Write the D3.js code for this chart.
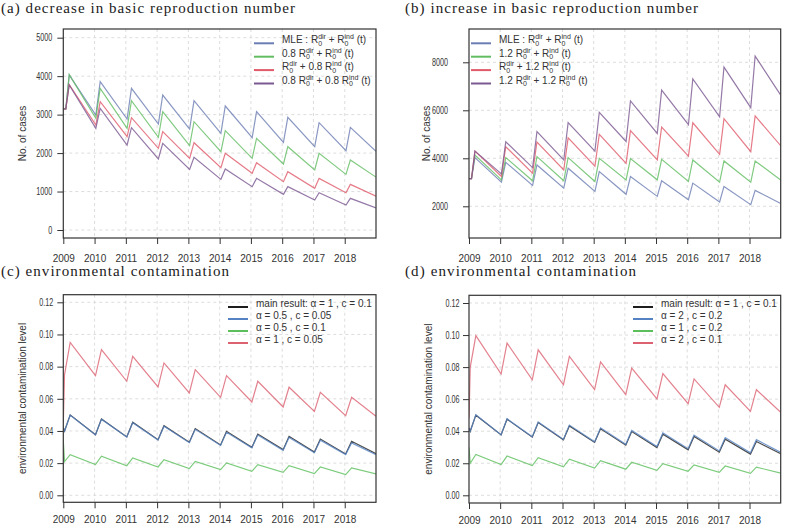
<!DOCTYPE html>
<html>
<head>
<meta charset="utf-8">
<script src="https://cdn.jsdelivr.net/npm/d3@7"></script>
<style>
body { margin: 0; background: #fff; }
text { font-family: "Liberation Sans", Arial, sans-serif; fill: #333; }
.title { font-family: "Liberation Serif", "DejaVu Serif", serif; fill: #1a1a1a; }
</style>
</head>
<body>
<div id="root"></div>
<script>
// year ticks, shared by all four panels
var years = [2009, 2010, 2011, 2012, 2013, 2014, 2015, 2016, 2017, 2018];

// time points of the vertices (seasonal low, then peak)
var timesAB = [2009, 2009.08, 2009.19, 2010.04, 2010.18, 2011.04, 2011.18, 2012.04, 2012.18,
    2013.04, 2013.18, 2014.04, 2014.18, 2015.04, 2015.18, 2016.04, 2016.18, 2017.04, 2017.18,
    2018.04, 2018.18, 2019];
var timesCD = [2009, 2009.04, 2009.22, 2010.03, 2010.22, 2011.03, 2011.22, 2012.03, 2012.22,
    2013.03, 2013.22, 2014.03, 2014.22, 2015.03, 2015.22, 2016.03, 2016.22, 2017.03, 2017.22,
    2018.03, 2018.22, 2019];

var ticksA = [0, 1000, 2000, 3000, 4000, 5000];
var ticksB = [2000, 4000, 6000, 8000];
var ticksCD = [0, 0.02, 0.04, 0.06, 0.08, 0.10, 0.12];

// (a) decrease
var mleA = [3150, 3150, 4030, 2990, 3856, 2886, 3683, 2756, 3510, 2626, 3362, 2513, 3224, 2400, 3076, 2279, 2929, 2166, 2790, 2062, 2669, 2045];
var dir08A = [3150, 3150, 4040, 2903, 3683, 2643, 3362, 2409, 3076, 2192, 2816, 2036, 2582, 1863, 2383, 1716, 2166, 1560, 1993, 1447, 1820, 1375];
var ind08A = [3150, 3150, 3780, 2730, 3336, 2426, 2920, 2123, 2556, 1863, 2270, 1620, 1993, 1473, 1750, 1256, 1516, 1083, 1343, 971, 1187, 880];
var both08A = [3150, 3150, 3770, 2643, 3163, 2210, 2660, 1846, 2253, 1577, 1889, 1317, 1586, 1127, 1343, 927, 1127, 780, 971, 650, 823, 575];

// (b) increase
var mleB = [3150, 3150, 4030, 3007, 3834, 2869, 3724, 2759, 3586, 2621, 3448, 2500, 3236, 2414, 3062, 2276, 2966, 2179, 2828, 2069, 2662, 2120];
var dir12B = [3150, 3150, 4140, 3103, 4028, 3062, 4069, 3062, 4028, 3034, 4000, 3097, 3990, 3103, 3959, 3034, 3931, 3007, 3890, 3007, 3890, 3100];
var ind12B = [3150, 3150, 4300, 3241, 4483, 3379, 4680, 3517, 4850, 3670, 5000, 3790, 5150, 3931, 5300, 4090, 5480, 4166, 5650, 4276, 5766, 4524];
var both12B = [3150, 3150, 4300, 3352, 4690, 3614, 5111, 3930, 5483, 4300, 5917, 4700, 6390, 5034, 6840, 5400, 7310, 5724, 7800, 6110, 8260, 6630];

// (c) and (d) environmental contamination
var mainEnv = [0.042, 0.040, 0.050, 0.0377, 0.0475, 0.0363, 0.0454, 0.0346, 0.0433, 0.033, 0.0415, 0.0313, 0.0398, 0.0298, 0.0381, 0.0284, 0.0367, 0.0269, 0.035, 0.0257, 0.0336, 0.0259];
var a05c005 = [0.042, 0.040, 0.0498, 0.0377, 0.0473, 0.0362, 0.0451, 0.0344, 0.0430, 0.0327, 0.0410, 0.0310, 0.0392, 0.0295, 0.0375, 0.0280, 0.0360, 0.0265, 0.0343, 0.0253, 0.0326, 0.0253];
var a05c01 = [0.034, 0.021, 0.0253, 0.0191, 0.0243, 0.0184, 0.0232, 0.0176, 0.0222, 0.0166, 0.0211, 0.016, 0.0201, 0.0149, 0.0191, 0.0143, 0.0184, 0.0135, 0.0176, 0.0129, 0.017, 0.0133];
var a1c005 = [0.045, 0.075, 0.0951, 0.0744, 0.0906, 0.0709, 0.0864, 0.0674, 0.0823, 0.0636, 0.0781, 0.0609, 0.0744, 0.058, 0.0709, 0.0549, 0.0672, 0.0522, 0.064, 0.0495, 0.0609, 0.0491];
var a2c02 = [0.042, 0.040, 0.0502, 0.0378, 0.0478, 0.0365, 0.0458, 0.0349, 0.0438, 0.0334, 0.0421, 0.0318, 0.0405, 0.0304, 0.0389, 0.0291, 0.0376, 0.0277, 0.036, 0.0265, 0.0347, 0.0268];
var a1c02 = [0.030, 0.020, 0.0255, 0.0192, 0.0245, 0.0186, 0.0235, 0.0178, 0.0225, 0.0170, 0.0216, 0.0163, 0.0206, 0.0156, 0.0198, 0.0150, 0.0190, 0.0143, 0.0183, 0.0137, 0.0176, 0.0138];
var a2c01 = [0.048, 0.080, 0.0996, 0.0757, 0.095, 0.0721, 0.0908, 0.069, 0.0867, 0.0659, 0.0832, 0.0628, 0.0794, 0.0601, 0.0759, 0.0572, 0.0726, 0.0549, 0.069, 0.0524, 0.0659, 0.0518];

var labelsA = ["MLE : R_0^{dir} + R_0^{ind} (t)", "0.8 R_0^{dir} + R_0^{ind} (t)", "R_0^{dir} + 0.8 R_0^{ind} (t)", "0.8 R_0^{dir} + 0.8 R_0^{ind} (t)"];
var labelsB = ["MLE : R_0^{dir} + R_0^{ind} (t)", "1.2 R_0^{dir} + R_0^{ind} (t)", "R_0^{dir} + 1.2 R_0^{ind} (t)", "1.2 R_0^{dir} + 1.2 R_0^{ind} (t)"];
var labelsC = ["main result: α = 1 , c = 0.1", "α = 0.5 , c = 0.05", "α = 0.5 , c = 0.1", "α = 1 , c = 0.05"];
var labelsD = ["main result: α = 1 , c = 0.1", "α = 2 , c = 0.2", "α = 1 , c = 0.2", "α = 2 , c = 0.1"];

var colorsAB = ["#6b7db3", "#62bd62", "#e05a6a", "#7a5891"];
var colorsCD = ["#1e1e1e", "#5582c2", "#5cbf5c", "#dc6272"];

var width = 786,
    height = 526;

var svg = d3.select("#root")
    .append("svg")
    .attr("width", width)
    .attr("height", height);

// plotmath-like R_0^{x}: subscript 0 with the superscript stacked over it
function richText(sel, str) {
    var parts = str.split(/R_0\^\{(\w+)\}/);
    var back = 0;
    parts.forEach(function (s, i) {
        if (i % 2 == 0) {
            if (s === "") return;
            sel.append("tspan").attr("dy", back).text(s);
            back = 0;
        } else {
            sel.append("tspan").attr("dy", back).text("R");
            sel.append("tspan").attr("font-size", 7).attr("dy", 2.5).text("0");
            sel.append("tspan").attr("font-size", 7).attr("dx", -3.9).attr("dy", -6.5).text(s);
            back = 4;
        }
    });
}

function drawPanel(p) {
    var g = svg.append("g");
    var x = d3.scaleLinear().domain([2009, 2019]).range([p.left, p.right]);
    var y = d3.scaleLinear().domain(p.yDomain).range(p.yRange);

    g.append("text")
        .attr("class", "title")
        .attr("x", p.titleX)
        .attr("y", p.titleY)
        .attr("font-size", 15)
        .attr("textLength", p.titleLen)
        .attr("lengthAdjust", "spacing")
        .text(p.title);

    // dashed grid
    g.selectAll(".vgrid")
        .data(years.slice(1))
        .enter()
        .append("line")
        .attr("x1", function (d) { return x(d); })
        .attr("x2", function (d) { return x(d); })
        .attr("y1", p.top)
        .attr("y2", p.bottom)
        .style("stroke", "#d4d4d4")
        .style("stroke-dasharray", "3,3")
        .style("stroke-width", 0.8);
    g.selectAll(".hgrid")
        .data(p.yTicks)
        .enter()
        .append("line")
        .attr("x1", p.left)
        .attr("x2", p.right)
        .attr("y1", function (d) { return y(d); })
        .attr("y2", function (d) { return y(d); })
        .style("stroke", "#d4d4d4")
        .style("stroke-dasharray", "3,3")
        .style("stroke-width", 0.8);

    var clipId = "clip" + p.id;
    g.append("clipPath")
        .attr("id", clipId)
        .append("rect")
        .attr("x", p.left)
        .attr("y", p.top)
        .attr("width", p.right - p.left)
        .attr("height", p.bottom - p.top);

    var line = d3.line()
        .x(function (d, i) { return x(p.times[i]); })
        .y(function (d) { return y(d); });

    g.append("g")
        .attr("clip-path", "url(#" + clipId + ")")
        .selectAll("path")
        .data(p.series)
        .enter()
        .append("path")
        .attr("d", line)
        .style("fill", "none")
        .style("stroke", function (d, i) { return p.colors[i]; })
        .style("stroke-width", 1.2)
        .style("stroke-opacity", 0.8);

    g.append("rect")
        .attr("x", p.left)
        .attr("y", p.top)
        .attr("width", p.right - p.left)
        .attr("height", p.bottom - p.top)
        .style("fill", "none")
        .style("stroke", "#333")
        .style("stroke-width", 1.2);

    var xAxis = g.append("g")
        .attr("transform", "translate(0," + p.bottom + ")")
        .call(d3.axisBottom(x).tickValues(years).tickFormat(d3.format("d")).tickSize(6).tickPadding(p.xPad));
    xAxis.select(".domain").remove();
    xAxis.selectAll("text").attr("font-size", 10).style("fill", "#333");
    xAxis.selectAll("line").style("stroke", "#333");

    var yAxis = g.append("g")
        .attr("transform", "translate(" + p.left + ",0)")
        .call(d3.axisLeft(y).tickValues(p.yTicks).tickFormat(p.yFormat).tickSize(6));
    yAxis.select(".domain").remove();
    yAxis.selectAll("line").style("stroke", "#333");
    // the tick labels of the picture are narrow
    yAxis.selectAll("text")
        .attr("font-size", 10)
        .style("fill", "#333")
        .attr("x", -p.yGap / 0.72)
        .attr("transform", "scale(0.72,1)");

    g.append("text")
        .attr("transform", "translate(" + p.yTitleX + "," + (p.top + p.bottom) / 2 + ") rotate(-90)")
        .attr("text-anchor", "middle")
        .attr("dy", "0.35em")
        .attr("font-size", 10)
        .text(p.yTitle);

    // legend
    var leg = g.selectAll(".leg")
        .data(p.labels)
        .enter()
        .append("g")
        .attr("transform", function (d, i) { return "translate(0," + (p.legY + i * p.legDy) + ")"; });
    leg.append("line")
        .attr("x1", p.legX)
        .attr("x2", p.legX + 20)
        .style("stroke", function (d, i) { return p.colors[i]; })
        .style("stroke-width", 2);
    leg.append("text")
        .attr("x", p.legX + 28)
        .attr("dy", "0.35em")
        .attr("font-size", 10)
        .each(function (d) { richText(d3.select(this), d); });
}

drawPanel({
    id: "a", title: "(a) decrease in basic reproduction number", titleX: 1, titleY: 12.5, titleLen: 294,
    left: 63.3, right: 376, top: 29, bottom: 238,
    yDomain: [0, 5000], yRange: [230, 37.7], yTicks: ticksA, yFormat: d3.format("d"), yGap: 11,
    xPad: 10.5, yTitle: "No. of cases", yTitleX: 22,
    times: timesAB, series: [mleA, dir08A, ind08A, both08A], colors: colorsAB,
    labels: labelsA, legX: 254, legY: 43.3, legDy: 13.4
});
drawPanel({
    id: "b", title: "(b) increase in basic reproduction number", titleX: 405, titleY: 12.5, titleLen: 293,
    left: 469, right: 780.7, top: 29, bottom: 238,
    yDomain: [2000, 8000], yRange: [206.3, 62.3], yTicks: ticksB, yFormat: d3.format("d"), yGap: 21,
    xPad: 10.5, yTitle: "No. of cases", yTitleX: 426,
    times: timesAB, series: [mleB, dir12B, ind12B, both12B], colors: colorsAB,
    labels: labelsB, legX: 471, legY: 43.3, legDy: 13.4
});
drawPanel({
    id: "c", title: "(c) environmental contamination", titleX: 1, titleY: 275.5, titleLen: 228,
    left: 63.3, right: 376, top: 294.7, bottom: 502.3,
    yDomain: [0, 0.12], yRange: [495.3, 302.3], yTicks: ticksCD, yFormat: d3.format(".2f"), yGap: 10,
    xPad: 8, yTitle: "environmental contamination level", yTitleX: 22,
    times: timesCD, series: [mainEnv, a05c005, a05c01, a1c005], colors: colorsCD,
    labels: labelsC, legX: 228, legY: 307, legDy: 12
});
drawPanel({
    id: "d", title: "(d) environmental contamination", titleX: 405, titleY: 276, titleLen: 231,
    left: 469, right: 780.7, top: 295.3, bottom: 503,
    yDomain: [0, 0.12], yRange: [495.3, 303], yTicks: ticksCD, yFormat: d3.format(".2f"), yGap: 9.5,
    xPad: 7.5, yTitle: "environmental contamination level", yTitleX: 428,
    times: timesCD, series: [mainEnv, a2c02, a1c02, a2c01], colors: colorsCD,
    labels: labelsD, legX: 633, legY: 307, legDy: 12
});
</script>
</body>
</html>
